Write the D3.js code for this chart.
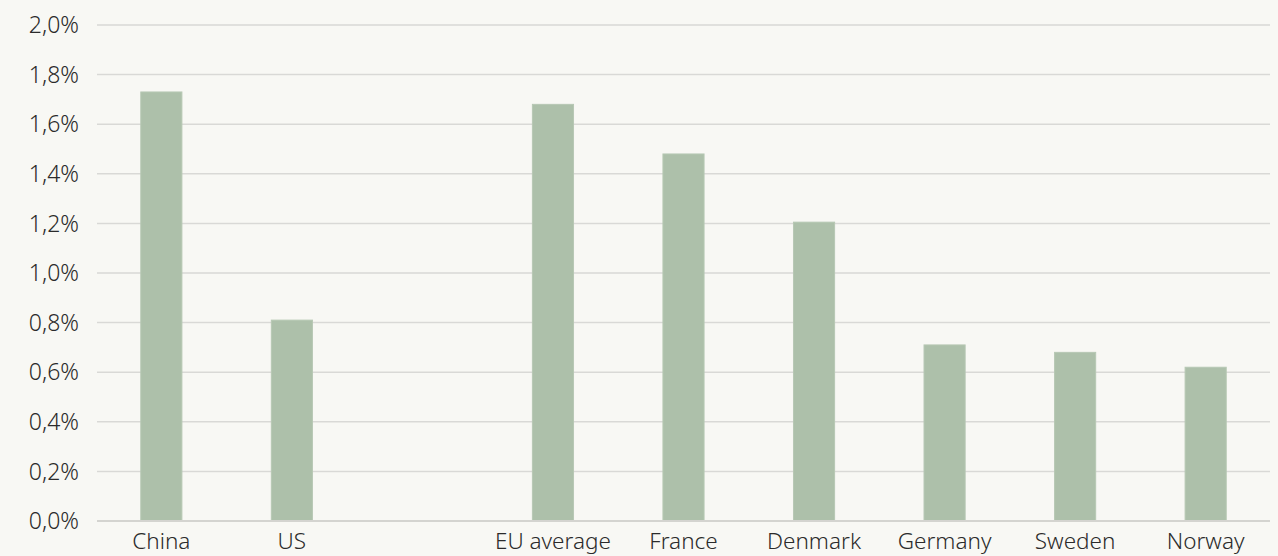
<!DOCTYPE html>
<html><head><meta charset="utf-8">
<script src="https://cdn.jsdelivr.net/npm/d3@7"></script>
<style>
html,body{margin:0;padding:0;background:#f8f8f4;}
svg{display:block;}
text{font-family:"Noto Sans",sans-serif;fill:#2b2b2b;font-weight:300;}
</style></head><body>
<svg id="c" width="1278" height="556"></svg>
<script>
const categories = ["China","US","","EU average","France","Denmark","Germany","Sweden","Norway"];
const values = [1.73, 0.81, null, 1.68, 1.48, 1.205, 0.71, 0.68, 0.62];
const yTicks = [0,0.2,0.4,0.6,0.8,1.0,1.2,1.4,1.6,1.8,2.0];

const svg = d3.select("#c");
const x = d3.scaleBand().domain(d3.range(categories.length)).range([96,1271]).paddingInner(0.685).paddingOuter(0.343);
const y = d3.scaleLinear().domain([0,2.0]).range([521,25]);

svg.append("g").selectAll("line").data(yTicks.filter(d=>d>0)).join("line")
  .attr("x1",97).attr("x2",1270).attr("y1",d=>y(d)).attr("y2",d=>y(d))
  .attr("stroke","#d9d9d6").attr("stroke-width",1.5);

svg.append("g").selectAll("text").data(yTicks).join("text")
  .attr("x",79).attr("y",d=>y(d)).attr("dy","0.36em").attr("text-anchor","end")
  .style("font-size","23px").text(d=>d.toFixed(1).replace(".",",")+"%");

const data = categories.map((c,i)=>({c,i,v:values[i]})).filter(d=>d.v!=null);
svg.append("g").selectAll("rect").data(data).join("rect")
  .attr("x",d=>x(d.i)).attr("width",x.bandwidth())
  .attr("y",d=>y(d.v)).attr("height",d=>y(0)-y(d.v))
  .attr("fill","#adc0aa").attr("stroke","#b7c8b4").attr("stroke-width",1);

svg.append("line").attr("x1",97).attr("x2",1270).attr("y1",y(0)).attr("y2",y(0))
  .attr("stroke","#d4d4d0").attr("stroke-width",2);

svg.append("g").selectAll("text").data(categories.map((c,i)=>({c,i}))).join("text")
  .attr("x",d=>x(d.i)+x.bandwidth()/2).attr("y",549).attr("text-anchor","middle")
  .style("font-size","22.5px").text(d=>d.c);
</script>
</body></html>
